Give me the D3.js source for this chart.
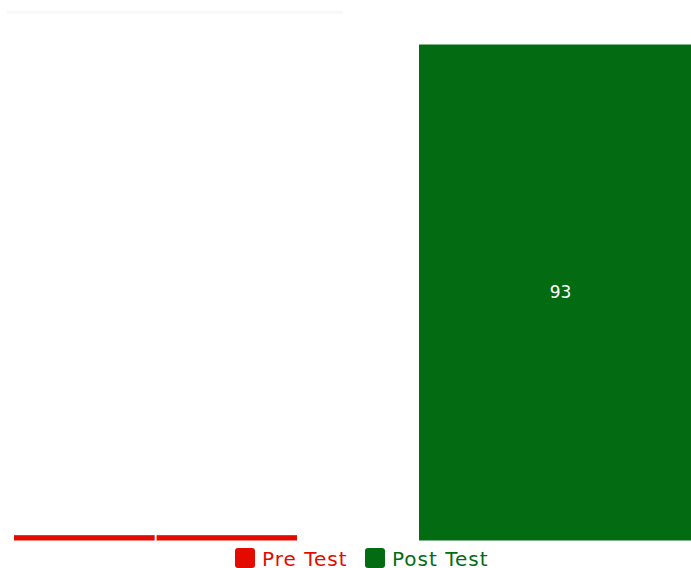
<!DOCTYPE html>
<html>
<head>
<meta charset="utf-8">
<script src="https://cdn.jsdelivr.net/npm/d3@7/dist/d3.min.js"></script>
<style>
  html, body { margin: 0; padding: 0; background: #fff; }
  svg { display: block; font-family: "DejaVu Sans", "Open Sans", sans-serif; }
</style>
</head>
<body>
<svg id="chart" width="691" height="568"></svg>
<script>
// Test scores
const categories = ["Pre Test", "Post Test"];
const scores = [1, 93];
const colors = ["#e30b00", "#036c13"];

const svg = d3.select("#chart");

// faint header rule
svg.append("rect")
  .attr("x", 7).attr("y", 11).attr("width", 336).attr("height", 3)
  .attr("fill", "#f8f8f8");

const x = d3.scaleBand()
  .domain(categories)
  .range([14, 702])
  .paddingInner(122 / 405)
  .paddingOuter(0);

const y = d3.scaleLinear()
  .domain([0, 93])
  .range([540.5, 44.5]);

const bars = svg.append("g");
bars.selectAll("rect")
  .data(categories)
  .join("rect")
  .attr("x", d => x(d))
  .attr("width", x.bandwidth())
  .attr("y", (d, i) => y(scores[i]))
  .attr("height", (d, i) => y(0) - y(scores[i]))
  .attr("fill", (d, i) => colors[i]);

bars.selectAll("text")
  .data(categories)
  .join("text")
  .attr("x", d => x(d) + x.bandwidth() / 2)
  .attr("y", (d, i) => (y(scores[i]) + y(0)) / 2)
  .attr("dy", "0.35em")
  .attr("text-anchor", "middle")
  .attr("fill", "#fff")
  .attr("font-size", 17)
  .text((d, i) => scores[i]);

// legend
const legendItems = [
  { key: categories[0], x: 235 },
  { key: categories[1], x: 365 }
];
const legend = svg.append("g");
legendItems.forEach((item, i) => {
  const g = legend.append("g").attr("transform", `translate(${item.x},548)`);
  g.append("rect")
    .attr("width", 20).attr("height", 20)
    .attr("rx", 3).attr("ry", 3)
    .attr("fill", colors[i]);
  g.append("text")
    .attr("x", 27).attr("y", 18)
    .attr("font-size", 20)
    .attr("letter-spacing", 1)
    .attr("fill", colors[i])
    .text(item.key);
});
</script>
</body>
</html>
